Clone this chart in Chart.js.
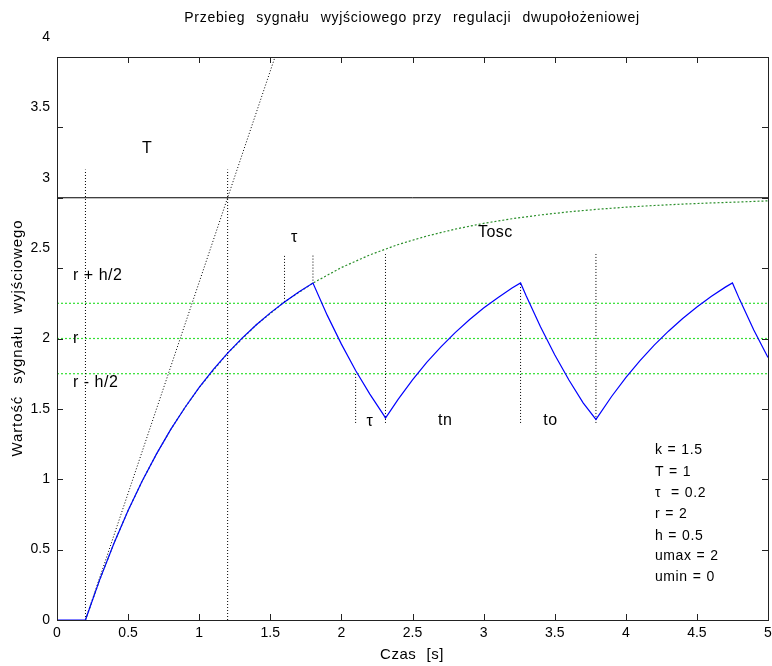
<!DOCTYPE html>
<html>
<head>
<meta charset="utf-8">
<script src="https://cdn.jsdelivr.net/npm/chart.js@4/dist/chart.umd.min.js"></script>
<style>
  html, body { margin: 0; padding: 0; background: #fff; }
</style>
</head>
<body>
<canvas id="chart" width="772" height="666"></canvas>
<script>
// output of the system (blue)
const timeOut = [0, 0.2, 0.3, 0.4, 0.5, 0.6, 0.7, 0.8, 0.9, 1.0, 1.1, 1.2, 1.3, 1.4, 1.5, 1.6, 1.7, 1.8,
  1.9, 2.0, 2.1, 2.2, 2.3, 2.31,
  2.4, 2.5, 2.6, 2.7, 2.8, 2.9, 3.0, 3.1, 3.2, 3.26,
  3.3, 3.4, 3.5, 3.6, 3.7, 3.79,
  3.8, 3.9, 4.0, 4.1, 4.2, 4.3, 4.4, 4.5, 4.6, 4.7, 4.75,
  4.8, 4.9, 5.0];
const valueOut = [0, 0, 0.285, 0.544, 0.778, 0.989, 1.180, 1.354, 1.510, 1.652, 1.780, 1.896, 2.001, 2.096, 2.182, 2.260, 2.331, 2.394,
  2.166, 1.960, 1.773, 1.605, 1.452, 1.435,
  1.569, 1.706, 1.830, 1.941, 2.042, 2.133, 2.216, 2.290, 2.358, 2.395,
  2.302, 2.083, 1.885, 1.705, 1.543, 1.425,
  1.440, 1.588, 1.722, 1.843, 1.953, 2.052, 2.142, 2.224, 2.298, 2.365, 2.395,
  2.278, 2.061, 1.865];

// open-loop step response (green dotted)
const timeStep = [0.2, 0.3, 0.4, 0.5, 0.6, 0.7, 0.8, 0.9, 1.0, 1.2, 1.4, 1.6, 1.8, 2.0, 2.2, 2.4, 2.6, 2.8, 3.0, 3.2, 3.4, 3.6, 3.8, 4.0, 4.2, 4.4, 4.6, 4.8, 5.0];
const valueStep = [0, 0.285, 0.544, 0.778, 0.989, 1.180, 1.354, 1.510, 1.652, 1.896, 2.096, 2.260, 2.394, 2.504, 2.594, 2.668, 2.728, 2.777, 2.818, 2.851, 2.878, 2.900, 2.918, 2.933, 2.945, 2.955, 2.963, 2.970, 2.978];

// hysteresis levels r - h/2, r, r + h/2
const levels = [1.75, 2, 2.25];
const steadyValue = 3;

// tangent at the start of the step response
const tangentTime = [0.2, 1.533];
const tangentValue = [0, 4];

// vertical dotted markers
const markTime = [0.2, 1.2, 1.6, 1.8, 2.1, 2.31, 3.26, 3.79];
const markLow = [0, 0, 2.26, 2.39, 1.40, 1.40, 1.40, 1.40];
const markHigh = [3.2, 3.2, 2.6, 2.6, 1.75, 2.6, 2.39, 2.6];

const xTicks = [0, 0.5, 1, 1.5, 2, 2.5, 3, 3.5, 4, 4.5, 5];
const xTickLabels = ['0', '0.5', '1', '1.5', '2', '2.5', '3', '3.5', '4', '4.5', '5'];
const yTicks = [0, 0.5, 1, 1.5, 2, 2.5, 3, 3.5, 4];
const yTickLabels = ['0', '0.5', '1', '1.5', '2', '2.5', '3', '3.5', '4'];

const params = ['k = 1.5', 'T = 1', 'τ  = 0.2', 'r = 2', 'h = 0.5', 'umax = 2', 'umin = 0'];
const paramY = [1.208, 1.052, 0.902, 0.753, 0.597, 0.455, 0.306];

const notes = [
  { text: 'T', x: 0.633, y: 3.35, align: 'center' },
  { text: 'τ', x: 1.67, y: 2.72, align: 'center' },
  { text: 'Tosc', x: 2.96, y: 2.75, align: 'left' },
  { text: 'r + h/2', x: 0.113, y: 2.45, align: 'left' },
  { text: 'r', x: 0.113, y: 2.0, align: 'left' },
  { text: 'r - h/2', x: 0.113, y: 1.69, align: 'left' },
  { text: 'τ', x: 2.2, y: 1.41, align: 'center' },
  { text: 'tn', x: 2.73, y: 1.42, align: 'center' },
  { text: 'to', x: 3.47, y: 1.42, align: 'center' }
];

const FONT = '"Liberation Sans", Arial, Helvetica, sans-serif';

function pts(xs, ys) {
  return xs.map((x, i) => ({ x: x, y: ys[i] }));
}

const datasets = [];
datasets.push({
  data: pts(timeOut, valueOut),
  borderColor: '#0000ff',
  borderWidth: 1.2,
  order: 0
});
datasets.push({
  data: pts(timeStep, valueStep),
  borderColor: '#2a8f2a',
  borderWidth: 1.2,
  borderDash: [2, 2],
  order: 2
});
levels.forEach(v => {
  datasets.push({
    data: [{ x: 0, y: v }, { x: 5, y: v }],
    borderColor: '#33e033',
    borderWidth: 1.2,
    borderDash: [2, 2],
    order: 3
  });
});
datasets.push({
  data: [{ x: 0, y: steadyValue }, { x: 5, y: steadyValue }],
  borderColor: '#000',
  borderWidth: 1,
  order: 1
});
datasets.push({
  data: pts(tangentTime, tangentValue),
  borderColor: '#000',
  borderWidth: 1,
  borderDash: [1, 2],
  order: 1
});
markTime.forEach((t, i) => {
  datasets.push({
    data: [{ x: t, y: markLow[i] }, { x: t, y: markHigh[i] }],
    borderColor: '#000',
    borderWidth: 1,
    borderDash: [1, 2],
    order: 1
  });
});

function text(ctx, str, x, y, size, spacing, wordGap) {
  ctx.font = size + 'px ' + FONT;
  ctx.letterSpacing = (spacing || 0) + 'px';
  ctx.wordSpacing = (wordGap || 0) + 'px';
  ctx.fillText(str, x, y);
}

const matlabAxes = {
  id: 'matlabAxes',
  afterDraw(chart) {
    const ctx = chart.ctx;
    const xs = chart.scales.x;
    const ys = chart.scales.y;
    const a = chart.chartArea;
    ctx.save();

    // box
    ctx.strokeStyle = '#222';
    ctx.lineWidth = 1;
    ctx.strokeRect(Math.round(a.left) + 0.5, Math.round(a.top) + 0.5,
      Math.round(a.right - a.left), Math.round(a.bottom - a.top));

    // ticks (inward, all sides)
    ctx.beginPath();
    xTicks.forEach(v => {
      const px = Math.round(xs.getPixelForValue(v)) + 0.5;
      ctx.moveTo(px, a.bottom); ctx.lineTo(px, a.bottom - 6);
      ctx.moveTo(px, a.top); ctx.lineTo(px, a.top + 6);
    });
    yTicks.forEach(v => {
      const py = Math.round(ys.getPixelForValue(v)) + 0.5;
      ctx.moveTo(a.left, py); ctx.lineTo(a.left + 6, py);
      ctx.moveTo(a.right, py); ctx.lineTo(a.right - 6, py);
    });
    ctx.stroke();

    // tick labels
    ctx.fillStyle = '#000';
    ctx.textAlign = 'center';
    ctx.textBaseline = 'middle';
    xTicks.forEach((v, i) => {
      text(ctx, xTickLabels[i], xs.getPixelForValue(v), a.bottom + 13, 14);
    });
    ctx.textAlign = 'right';
    yTicks.forEach((v, i) => {
      const shift = v > 2 ? -20 : 0;
      text(ctx, yTickLabels[i], a.left - 7, ys.getPixelForValue(v) + shift, 14);
    });

    // title and axis titles
    ctx.textAlign = 'center';
    text(ctx, 'Przebieg  sygnału  wyjściowego przy  regulacji  dwupołożeniowej', 412, 18, 14, 0.7, 1);
    text(ctx, 'Czas  [s]', 412, 655, 15, 0.5, 0.5);
    ctx.save();
    ctx.translate(18, 338);
    ctx.rotate(-Math.PI / 2);
    text(ctx, 'Wartość  sygnału  wyjściowego', 0, 0, 15, 0.9, 1);
    ctx.restore();

    // annotations
    notes.forEach(n => {
      ctx.textAlign = n.align;
      text(ctx, n.text, xs.getPixelForValue(n.x), ys.getPixelForValue(n.y), 16, 0.5);
    });
    ctx.textAlign = 'left';
    params.forEach((p, i) => {
      text(ctx, p, xs.getPixelForValue(4.205), ys.getPixelForValue(paramY[i]), 14, 0.6, 0.5);
    });

    ctx.restore();
  }
};

new Chart(document.getElementById('chart').getContext('2d'), {
  type: 'line',
  data: { datasets: datasets },
  options: {
    responsive: false,
    animation: false,
    events: [],
    layout: { padding: { left: 57, right: 4, top: 57, bottom: 46 } },
    scales: {
      x: { type: 'linear', min: 0, max: 5, display: false },
      y: { type: 'linear', min: 0, max: 4, display: false }
    },
    elements: {
      point: { radius: 0 },
      line: { tension: 0, fill: false }
    },
    plugins: {
      legend: { display: false },
      tooltip: { enabled: false }
    }
  },
  plugins: [matlabAxes]
});
</script>
</body>
</html>
